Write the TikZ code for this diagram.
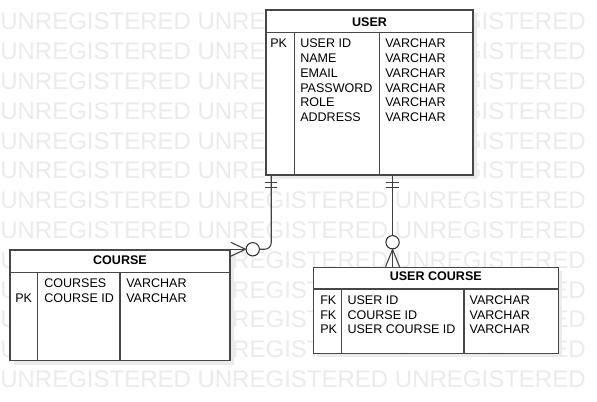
\documentclass[tikz,border=0pt]{standalone}
\usepackage{fontspec}
\setmainfont{Liberation Sans}
\usetikzlibrary{calc, fit, shadows}

\tikzset{
  entity/.style={draw=black!72, line width=1.1pt, fill=white, inner sep=0pt,
    drop shadow={shadow xshift=3pt, shadow yshift=-3pt, fill=black!8, opacity=1}},
  sep/.style={draw=black!72, line width=1.1pt},
  attr/.style={anchor=west, inner sep=0pt, font=\fontsize{9.4}{11}\selectfont},
  hdr/.style={inner sep=0pt, font=\fontsize{9.4}{11}\selectfont\bfseries},
  rel/.style={draw=black!75, line width=0.8pt},
  ring/.style={circle, draw=black!80, line width=0.8pt, fill=white, minimum size=10pt, inner sep=0pt},
  wm/.style={anchor=west, inner sep=0pt, text=black!8, font=\fontsize{18}{20}\selectfont}
}

\begin{document}
\begin{tikzpicture}[x=0.75pt, y=-0.75pt]
        \useasboundingbox (0,0) rectangle (597,402);
        % 背景水印
        \foreach \k in {0,...,12}
            \node[wm] (wm\k) at (0,{21.7+29.8*\k}) {UNREGISTERED UNREGISTERED UNREGISTERED};

        % 1. USER
        \node[entity, fit={(266,10) (473,175)}] (user) {};
        \draw[sep] (266,32.7) -- (473,32.7);
        \draw[sep] (294.3,32.7) -- (294.3,175);
        \draw[sep] (379.3,32.7) -- (379.3,175);
        \node[hdr] (userhdr) at (369.5,21.7) {USER};
        \node[attr] (userpk) at (270,43.3) {PK};
        \foreach \f [count=\i from 0] in {USER ID,NAME,EMAIL,PASSWORD,ROLE,ADDRESS} {
            \node[attr] (un\i) at (300,{43.3+14.8*\i}) {\f};
            \node[attr] (ut\i) at (385,{43.3+14.8*\i}) {VARCHAR};
        }

        % 2. COURSE
        \node[entity, fit={(10,250) (230,360.7)}] (course) {};
        \draw[sep] (10,272.7) -- (230,272.7);
        \draw[sep] (37.7,272.7) -- (37.7,360.7);
        \draw[sep] (120,272.7) -- (120,360.7);
        \node[hdr] (coursehdr) at (120,260.5) {COURSE};
        \node[attr] (coursepk) at (15,298.3) {PK};
        \foreach \f [count=\i from 0] in {COURSES,COURSE ID} {
            \node[attr] (cn\i) at (44,{282.7+15.6*\i}) {\f};
            \node[attr] (ct\i) at (126,{282.7+15.6*\i}) {VARCHAR};
        }

        % 3. USER COURSE
        \node[entity, fit={(313.3,267.5) (558.3,353.3)}] (uc) {};
        \draw[sep] (313.3,289.2) -- (558.3,289.2);
        \draw[sep] (341.7,289.2) -- (341.7,353.3);
        \draw[sep] (464,289.2) -- (464,353.3);
        \node[hdr] (uchdr) at (435.8,276.5) {USER COURSE};
        \foreach \k/\f [count=\i from 0] in {FK/USER ID,FK/COURSE ID,PK/USER COURSE ID} {
            \node[attr] (uk\i) at (320,{300.3+14.6*\i}) {\k};
            \node[attr] (ucn\i) at (347.3,{300.3+14.6*\i}) {\f};
            \node[attr] (uct\i) at (469.3,{300.3+14.6*\i}) {VARCHAR};
        }

        % 连线 USER -> COURSE
        \coordinate (a1) at ($(user.south west)+(6,0)$);
        \node[ring] (c1) at ($(course.north east)+(22,0)$) {};
        \draw[rel, rounded corners=5pt] (a1) |- (c1.east);
        \draw[rel] ($(a1)+(-6,6.7)$) -- +(12,0);
        \draw[rel] ($(a1)+(-6,11.7)$) -- +(12,0);
        \draw[rel] ($(course.north east)+(0,-7)$) -- (c1.west) -- ($(course.north east)+(0,7)$);
        \draw[rel] (course.north east) -- (c1.west);

        % 连线 USER -> USER COURSE
        \coordinate (a2) at ($(user.south west)+(127.3,0)$);
        \node[ring] (c2) at ($(uc.north west)+(80,-24.5)$) {};
        \draw[rel] (a2) -- (c2.north);
        \draw[rel] ($(a2)+(-6.7,6.7)$) -- +(13.4,0);
        \draw[rel] ($(a2)+(-6.7,11.7)$) -- +(13.4,0);
        \draw[rel] ($(uc.north west)+(73,0)$) -- (c2.south) -- ($(uc.north west)+(87,0)$);
        \draw[rel] (c2.south) -- (c2.south |- uc.north);
\end{tikzpicture}
\end{document}
